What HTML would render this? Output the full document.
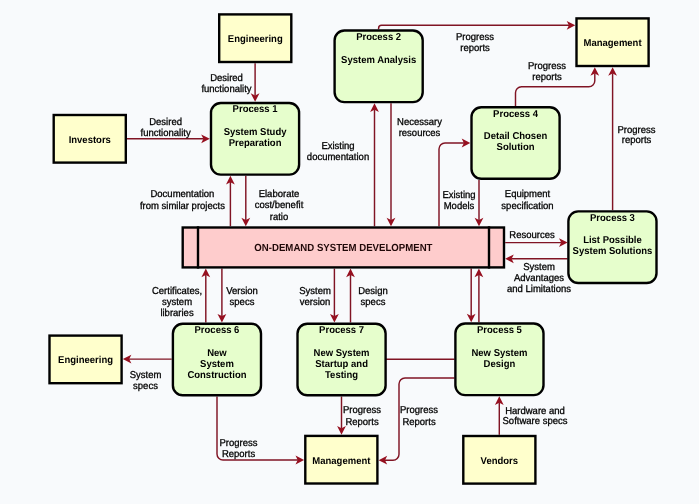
<!DOCTYPE html>
<html><head><meta charset="utf-8"><style>
html,body{margin:0;padding:0;background:#f8fafc;}
svg{display:block;will-change:transform;}
text{font-family:"Liberation Sans",sans-serif;text-rendering:geometricPrecision;}
.b{font-weight:bold;font-size:10.0px;fill:#000;}
.r{font-size:10.0px;fill:#000;stroke:#000;stroke-width:0.3px;}
.c{font-size:10.3px;font-weight:bold;fill:#200808;}
</style></head><body>
<svg width="699" height="504" viewBox="0 0 699 504">
<rect x="0" y="0" width="699" height="504" fill="#f8fafc"/>
<path d="M255.10,63.20 L255.10,95.80" fill="none" stroke="#801424" stroke-width="1.45"/>
<path d="M255.10,101.80 L250.70,93.20 L255.10,95.40 L259.50,93.20 Z" fill="#961020"/>
<path d="M126.90,138.80 L203.80,138.80" fill="none" stroke="#801424" stroke-width="1.45"/>
<path d="M209.80,138.80 L201.20,143.20 L203.40,138.80 L201.20,134.40 Z" fill="#961020"/>
<path d="M245.80,175.80 L245.80,220.30" fill="none" stroke="#801424" stroke-width="1.45"/>
<path d="M245.80,226.30 L241.40,217.70 L245.80,219.90 L250.20,217.70 Z" fill="#961020"/>
<path d="M230.40,226.30 L230.40,181.80" fill="none" stroke="#801424" stroke-width="1.45"/>
<path d="M230.40,175.80 L234.80,184.40 L230.40,182.20 L226.00,184.40 Z" fill="#961020"/>
<path d="M378.60,29.30 L378.60,28.30 C378.60,26.64 379.94,25.30 381.60,25.30 L569.30,25.30" fill="none" stroke="#801424" stroke-width="1.45"/>
<path d="M575.30,25.30 L566.70,29.70 L568.90,25.30 L566.70,20.90 Z" fill="#961020"/>
<path d="M374.50,226.30 L374.50,109.30" fill="none" stroke="#801424" stroke-width="1.45"/>
<path d="M374.50,103.30 L378.90,111.90 L374.50,109.70 L370.10,111.90 Z" fill="#961020"/>
<path d="M391.00,103.30 L391.00,220.30" fill="none" stroke="#801424" stroke-width="1.45"/>
<path d="M391.00,226.30 L386.60,217.70 L391.00,219.90 L395.40,217.70 Z" fill="#961020"/>
<path d="M439.00,226.30 L439.00,149.00 C439.00,145.69 441.69,143.00 445.00,143.00 L464.30,143.00" fill="none" stroke="#801424" stroke-width="1.45"/>
<path d="M470.30,143.00 L461.70,147.40 L463.90,143.00 L461.70,138.60 Z" fill="#961020"/>
<path d="M479.00,180.00 L479.00,220.30" fill="none" stroke="#801424" stroke-width="1.45"/>
<path d="M479.00,226.30 L474.60,217.70 L479.00,219.90 L483.40,217.70 Z" fill="#961020"/>
<path d="M515.50,106.00 L515.50,92.80 C515.50,89.49 518.19,86.80 521.50,86.80 L588.80,86.80 C592.11,86.80 594.80,84.11 594.80,80.80 L594.80,73.20" fill="none" stroke="#801424" stroke-width="1.45"/>
<path d="M594.80,67.20 L599.20,75.80 L594.80,73.60 L590.40,75.80 Z" fill="#961020"/>
<path d="M612.60,210.20 L612.60,73.20" fill="none" stroke="#801424" stroke-width="1.45"/>
<path d="M612.60,67.20 L617.00,75.80 L612.60,73.60 L608.20,75.80 Z" fill="#961020"/>
<path d="M505.20,242.60 L561.60,242.60" fill="none" stroke="#801424" stroke-width="1.45"/>
<path d="M567.60,242.60 L559.00,247.00 L561.20,242.60 L559.00,238.20 Z" fill="#961020"/>
<path d="M567.60,258.80 L511.20,258.80" fill="none" stroke="#801424" stroke-width="1.45"/>
<path d="M505.20,258.80 L513.80,254.40 L511.60,258.80 L513.80,263.20 Z" fill="#961020"/>
<path d="M221.90,268.60 L221.90,316.50" fill="none" stroke="#801424" stroke-width="1.45"/>
<path d="M221.90,322.50 L217.50,313.90 L221.90,316.10 L226.30,313.90 Z" fill="#961020"/>
<path d="M205.80,322.50 L205.80,274.60" fill="none" stroke="#801424" stroke-width="1.45"/>
<path d="M205.80,268.60 L210.20,277.20 L205.80,275.00 L201.40,277.20 Z" fill="#961020"/>
<path d="M171.70,359.10 L128.80,359.10" fill="none" stroke="#801424" stroke-width="1.45"/>
<path d="M122.80,359.10 L131.40,354.70 L129.20,359.10 L131.40,363.50 Z" fill="#961020"/>
<path d="M217.00,396.50 L217.00,454.00 C217.00,457.31 219.69,460.00 223.00,460.00 L298.10,460.00" fill="none" stroke="#801424" stroke-width="1.45"/>
<path d="M304.10,460.00 L295.50,464.40 L297.70,460.00 L295.50,455.60 Z" fill="#961020"/>
<path d="M334.40,268.60 L334.40,316.50" fill="none" stroke="#801424" stroke-width="1.45"/>
<path d="M334.40,322.50 L330.00,313.90 L334.40,316.10 L338.80,313.90 Z" fill="#961020"/>
<path d="M350.50,322.50 L350.50,274.60" fill="none" stroke="#801424" stroke-width="1.45"/>
<path d="M350.50,268.60 L354.90,277.20 L350.50,275.00 L346.10,277.20 Z" fill="#961020"/>
<path d="M341.50,396.50 L341.50,428.70" fill="none" stroke="#801424" stroke-width="1.45"/>
<path d="M341.50,434.70 L337.10,426.10 L341.50,428.30 L345.90,426.10 Z" fill="#961020"/>
<path d="M386.00,359.20 L454.50,359.20" fill="none" stroke="#801424" stroke-width="1.45"/>
<path d="M454.50,378.00 L405.00,378.00 C401.69,378.00 399.00,380.69 399.00,384.00 L399.00,454.20 C399.00,457.51 396.31,460.20 393.00,460.20 L384.60,460.20" fill="none" stroke="#801424" stroke-width="1.45"/>
<path d="M378.60,460.20 L387.20,455.80 L385.00,460.20 L387.20,464.60 Z" fill="#961020"/>
<path d="M471.20,268.60 L471.20,316.30" fill="none" stroke="#801424" stroke-width="1.45"/>
<path d="M471.20,322.30 L466.80,313.70 L471.20,315.90 L475.60,313.70 Z" fill="#961020"/>
<path d="M478.90,322.30 L478.90,274.60" fill="none" stroke="#801424" stroke-width="1.45"/>
<path d="M478.90,268.60 L483.30,277.20 L478.90,275.00 L474.50,277.20 Z" fill="#961020"/>
<path d="M499.30,434.80 L499.30,402.30" fill="none" stroke="#801424" stroke-width="1.45"/>
<path d="M499.30,396.30 L503.70,404.90 L499.30,402.70 L494.90,404.90 Z" fill="#961020"/>
<rect x="182.7" y="227.5" width="321.30" height="39.90" fill="#fecccc" stroke="#000" stroke-width="2.4"/>
<line x1="198" y1="226.3" x2="198" y2="268.6" stroke="#000" stroke-width="2.4"/>
<line x1="489" y1="226.3" x2="489" y2="268.6" stroke="#000" stroke-width="2.4"/>
<text transform="translate(343.40,250.90) scale(0.935,1)" class="c" text-anchor="middle">ON-DEMAND SYSTEM DEVELOPMENT</text>
<rect x="219.20" y="14.40" width="72.10" height="47.60" fill="#ffffcc" stroke="#000" stroke-width="2.4"/>
<text transform="translate(255.25,42.20) scale(0.95,1)" class="b" text-anchor="middle">Engineering</text>
<rect x="53.70" y="115.00" width="72.10" height="47.60" fill="#ffffcc" stroke="#000" stroke-width="2.4"/>
<text transform="translate(89.75,142.80) scale(0.95,1)" class="b" text-anchor="middle">Investors</text>
<rect x="576.50" y="18.40" width="72.10" height="47.60" fill="#ffffcc" stroke="#000" stroke-width="2.4"/>
<text transform="translate(612.55,46.20) scale(0.95,1)" class="b" text-anchor="middle">Management</text>
<rect x="49.50" y="335.60" width="72.10" height="47.60" fill="#ffffcc" stroke="#000" stroke-width="2.4"/>
<text transform="translate(85.55,363.40) scale(0.95,1)" class="b" text-anchor="middle">Engineering</text>
<rect x="305.30" y="435.90" width="72.10" height="47.60" fill="#ffffcc" stroke="#000" stroke-width="2.4"/>
<text transform="translate(341.35,463.70) scale(0.95,1)" class="b" text-anchor="middle">Management</text>
<rect x="463.30" y="436.00" width="72.10" height="47.60" fill="#ffffcc" stroke="#000" stroke-width="2.4"/>
<text transform="translate(499.35,463.80) scale(0.95,1)" class="b" text-anchor="middle">Vendors</text>
<rect x="211.00" y="103.00" width="88.10" height="71.60" rx="9.8" ry="9.8" fill="#e6fecc" stroke="#000" stroke-width="2.4"/>
<text transform="translate(255.05,112.30) scale(0.95,1)" class="b" text-anchor="middle">Process 1</text>
<text transform="translate(255.05,135.00) scale(0.95,1)" class="b" text-anchor="middle">System Study</text>
<text transform="translate(255.05,146.00) scale(0.95,1)" class="b" text-anchor="middle">Preparation</text>
<rect x="334.60" y="30.50" width="88.10" height="71.60" rx="9.8" ry="9.8" fill="#e6fecc" stroke="#000" stroke-width="2.4"/>
<text transform="translate(378.65,39.80) scale(0.95,1)" class="b" text-anchor="middle">Process 2</text>
<text transform="translate(378.65,62.50) scale(0.95,1)" class="b" text-anchor="middle">System Analysis</text>
<rect x="471.50" y="107.20" width="88.10" height="71.60" rx="9.8" ry="9.8" fill="#e6fecc" stroke="#000" stroke-width="2.4"/>
<text transform="translate(515.55,116.50) scale(0.95,1)" class="b" text-anchor="middle">Process 4</text>
<text transform="translate(515.55,139.20) scale(0.95,1)" class="b" text-anchor="middle">Detail Chosen</text>
<text transform="translate(515.55,150.20) scale(0.95,1)" class="b" text-anchor="middle">Solution</text>
<rect x="568.40" y="211.40" width="88.10" height="71.60" rx="9.8" ry="9.8" fill="#e6fecc" stroke="#000" stroke-width="2.4"/>
<text transform="translate(612.45,220.70) scale(0.95,1)" class="b" text-anchor="middle">Process 3</text>
<text transform="translate(612.45,243.40) scale(0.95,1)" class="b" text-anchor="middle">List Possible</text>
<text transform="translate(612.45,254.40) scale(0.95,1)" class="b" text-anchor="middle">System Solutions</text>
<rect x="172.90" y="323.70" width="88.10" height="71.60" rx="9.8" ry="9.8" fill="#e6fecc" stroke="#000" stroke-width="2.4"/>
<text transform="translate(216.95,333.00) scale(0.95,1)" class="b" text-anchor="middle">Process 6</text>
<text transform="translate(216.95,355.70) scale(0.95,1)" class="b" text-anchor="middle">New</text>
<text transform="translate(216.95,366.70) scale(0.95,1)" class="b" text-anchor="middle">System</text>
<text transform="translate(216.95,377.60) scale(0.95,1)" class="b" text-anchor="middle">Construction</text>
<rect x="297.50" y="323.70" width="88.10" height="71.60" rx="9.8" ry="9.8" fill="#e6fecc" stroke="#000" stroke-width="2.4"/>
<text transform="translate(341.55,333.00) scale(0.95,1)" class="b" text-anchor="middle">Process 7</text>
<text transform="translate(341.55,355.70) scale(0.95,1)" class="b" text-anchor="middle">New System</text>
<text transform="translate(341.55,366.70) scale(0.95,1)" class="b" text-anchor="middle">Startup and</text>
<text transform="translate(341.55,377.60) scale(0.95,1)" class="b" text-anchor="middle">Testing</text>
<rect x="455.40" y="323.50" width="88.10" height="71.60" rx="9.8" ry="9.8" fill="#e6fecc" stroke="#000" stroke-width="2.4"/>
<text transform="translate(499.45,332.80) scale(0.95,1)" class="b" text-anchor="middle">Process 5</text>
<text transform="translate(499.45,355.50) scale(0.95,1)" class="b" text-anchor="middle">New System</text>
<text transform="translate(499.45,366.50) scale(0.95,1)" class="b" text-anchor="middle">Design</text>
<text transform="translate(226.50,81.00) scale(0.95,1)" class="r" text-anchor="middle">Desired</text>
<text transform="translate(226.50,91.50) scale(0.95,1)" class="r" text-anchor="middle">functionality</text>
<text transform="translate(165.60,125.00) scale(0.95,1)" class="r" text-anchor="middle">Desired</text>
<text transform="translate(165.60,135.90) scale(0.95,1)" class="r" text-anchor="middle">functionality</text>
<text transform="translate(182.40,196.80) scale(0.95,1)" class="r" text-anchor="middle">Documentation</text>
<text transform="translate(182.40,208.50) scale(0.95,1)" class="r" text-anchor="middle">from similar projects</text>
<text transform="translate(279.00,196.60) scale(0.95,1)" class="r" text-anchor="middle">Elaborate</text>
<text transform="translate(279.00,208.10) scale(0.95,1)" class="r" text-anchor="middle">cost/benefit</text>
<text transform="translate(279.00,219.60) scale(0.95,1)" class="r" text-anchor="middle">ratio</text>
<text transform="translate(475.00,39.70) scale(0.95,1)" class="r" text-anchor="middle">Progress</text>
<text transform="translate(475.00,51.10) scale(0.95,1)" class="r" text-anchor="middle">reports</text>
<text transform="translate(338.00,149.00) scale(0.95,1)" class="r" text-anchor="middle">Existing</text>
<text transform="translate(338.00,160.00) scale(0.95,1)" class="r" text-anchor="middle">documentation</text>
<text transform="translate(419.50,124.80) scale(0.95,1)" class="r" text-anchor="middle">Necessary</text>
<text transform="translate(419.50,135.80) scale(0.95,1)" class="r" text-anchor="middle">resources</text>
<text transform="translate(459.00,197.60) scale(0.95,1)" class="r" text-anchor="middle">Existing</text>
<text transform="translate(459.00,209.00) scale(0.95,1)" class="r" text-anchor="middle">Models</text>
<text transform="translate(527.50,196.80) scale(0.95,1)" class="r" text-anchor="middle">Equipment</text>
<text transform="translate(527.50,208.80) scale(0.95,1)" class="r" text-anchor="middle">specification</text>
<text transform="translate(547.00,68.70) scale(0.95,1)" class="r" text-anchor="middle">Progress</text>
<text transform="translate(547.00,79.50) scale(0.95,1)" class="r" text-anchor="middle">reports</text>
<text transform="translate(636.50,132.50) scale(0.95,1)" class="r" text-anchor="middle">Progress</text>
<text transform="translate(636.50,143.20) scale(0.95,1)" class="r" text-anchor="middle">reports</text>
<text transform="translate(532.00,237.50) scale(0.95,1)" class="r" text-anchor="middle">Resources</text>
<text transform="translate(539.00,269.80) scale(0.95,1)" class="r" text-anchor="middle">System</text>
<text transform="translate(539.00,280.70) scale(0.95,1)" class="r" text-anchor="middle">Advantages</text>
<text transform="translate(539.00,291.60) scale(0.95,1)" class="r" text-anchor="middle">and Limitations</text>
<text transform="translate(177.00,294.00) scale(0.95,1)" class="r" text-anchor="middle">Certificates,</text>
<text transform="translate(177.00,305.20) scale(0.95,1)" class="r" text-anchor="middle">system</text>
<text transform="translate(177.00,316.40) scale(0.95,1)" class="r" text-anchor="middle">libraries</text>
<text transform="translate(242.00,294.00) scale(0.95,1)" class="r" text-anchor="middle">Version</text>
<text transform="translate(242.00,305.00) scale(0.95,1)" class="r" text-anchor="middle">specs</text>
<text transform="translate(145.50,378.10) scale(0.95,1)" class="r" text-anchor="middle">System</text>
<text transform="translate(145.50,389.30) scale(0.95,1)" class="r" text-anchor="middle">specs</text>
<text transform="translate(238.50,445.70) scale(0.95,1)" class="r" text-anchor="middle">Progress</text>
<text transform="translate(238.50,456.60) scale(0.95,1)" class="r" text-anchor="middle">Reports</text>
<text transform="translate(315.00,294.00) scale(0.95,1)" class="r" text-anchor="middle">System</text>
<text transform="translate(315.00,304.80) scale(0.95,1)" class="r" text-anchor="middle">version</text>
<text transform="translate(373.00,294.00) scale(0.95,1)" class="r" text-anchor="middle">Design</text>
<text transform="translate(373.00,304.80) scale(0.95,1)" class="r" text-anchor="middle">specs</text>
<text transform="translate(362.00,413.40) scale(0.95,1)" class="r" text-anchor="middle">Progress</text>
<text transform="translate(362.00,425.00) scale(0.95,1)" class="r" text-anchor="middle">Reports</text>
<text transform="translate(419.00,413.40) scale(0.95,1)" class="r" text-anchor="middle">Progress</text>
<text transform="translate(419.00,425.00) scale(0.95,1)" class="r" text-anchor="middle">Reports</text>
<text transform="translate(535.00,413.60) scale(0.95,1)" class="r" text-anchor="middle">Hardware and</text>
<text transform="translate(535.00,424.30) scale(0.95,1)" class="r" text-anchor="middle">Software specs</text>
</svg>
</body></html>
